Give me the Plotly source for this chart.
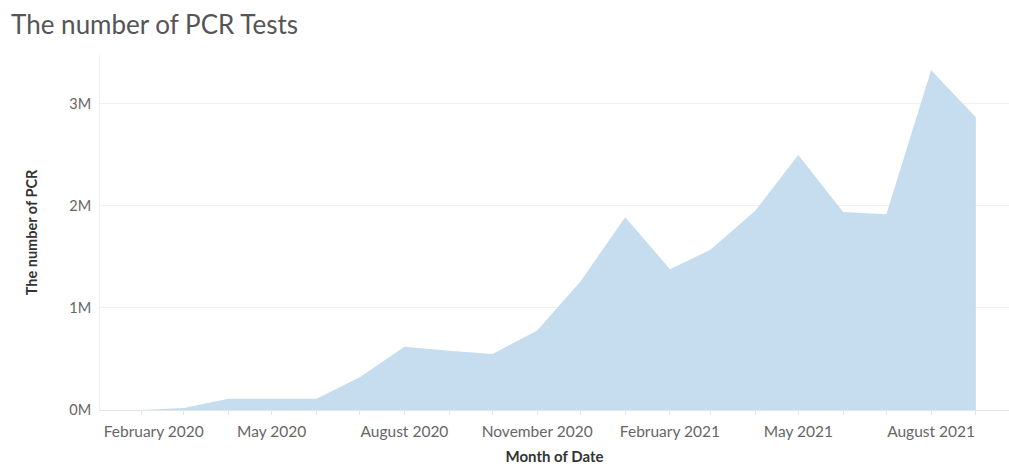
import plotly.graph_objects as go

months = ["2020-02-01", "2020-03-01", "2020-04-01", "2020-05-01", "2020-06-01",
          "2020-07-01", "2020-08-01", "2020-09-01", "2020-10-01", "2020-11-01",
          "2020-12-01", "2021-01-01", "2021-02-01", "2021-03-01", "2021-04-01",
          "2021-05-01", "2021-06-01", "2021-07-01", "2021-08-01", "2021-09-01"]
pcr_tests = [0, 20000, 110000, 110000, 110000,
             320000, 620000, 580000, 550000, 780000,
             1260000, 1890000, 1380000, 1570000, 1950000,
             2500000, 1940000, 1920000, 3330000, 2870000]

tick_dates = ["2020-02-01", "2020-05-01", "2020-08-01", "2020-11-01",
              "2021-02-01", "2021-05-01", "2021-08-01"]
tick_labels = ["\u00a0\u00a0\u00a0\u00a0\u00a0\u00a0February 2020", "May 2020",
               "August 2020", "November 2020",
               "February 2021", "May 2021", "August 2021"]
y_ticks = [0, 1000000, 2000000, 3000000]
y_labels = ["0M", "1M", "2M", "3M"]

font = "Lato, 'Open Sans', sans-serif"

fig = go.Figure()
fig.add_trace(go.Scatter(
    x=months, y=pcr_tests, mode="lines", fill="tozeroy",
    line=dict(color="rgba(197,221,238,1)", width=0),
    fillcolor="rgb(197,221,238)", hoverinfo="x+y", showlegend=False,
))

fig.update_layout(
    width=1009, height=468,
    margin=dict(l=100, r=0, t=55, b=58),
    paper_bgcolor="white", plot_bgcolor="white",
    font=dict(family=font, color="#666666"),
    title=dict(text="The number of PCR Tests", x=0.011, xanchor="left",
               y=0.947, yanchor="middle",
               font=dict(family=font, size=26, color="#555555")),
    xaxis=dict(
        type="date", range=["2020-01-03", "2021-09-24"],
        automargin=False,
        tickvals=tick_dates, ticktext=tick_labels,
        tickfont=dict(size=15.5, color="#666666"),
        showgrid=False, zeroline=False,
        showline=True, linecolor="#e6e6e6", linewidth=1,
        ticks="outside", ticklen=4, tickcolor="#e6e6e6",
        ticklabelstandoff=3,
        minor=dict(dtick="M1", tick0="2020-02-01", ticks="outside", ticklen=4,
                   tickcolor="#e6e6e6", showgrid=False),
        title=dict(text="<b>Month of Date</b>", font=dict(size=15, color="#333333"),
                   standoff=12),
    ),
    yaxis=dict(
        range=[0, 3480000],
        automargin=False,
        tickvals=y_ticks, ticktext=y_labels,
        tickfont=dict(size=14.5, color="#666666"),
        showgrid=True, gridcolor="#f0f0f0", gridwidth=1,
        zeroline=False, showline=True, linecolor="#f0f0f0",
        ticks="", ticklabelstandoff=5,
        title=dict(text="<b>The number of PCR</b>", font=dict(size=14.5, color="#333333"),
                   standoff=28),
    ),
)

fig.write_html("out.html", config={"displayModeBar": False},
               post_script="document.body.style.margin='0';document.body.style.overflow='hidden';")
